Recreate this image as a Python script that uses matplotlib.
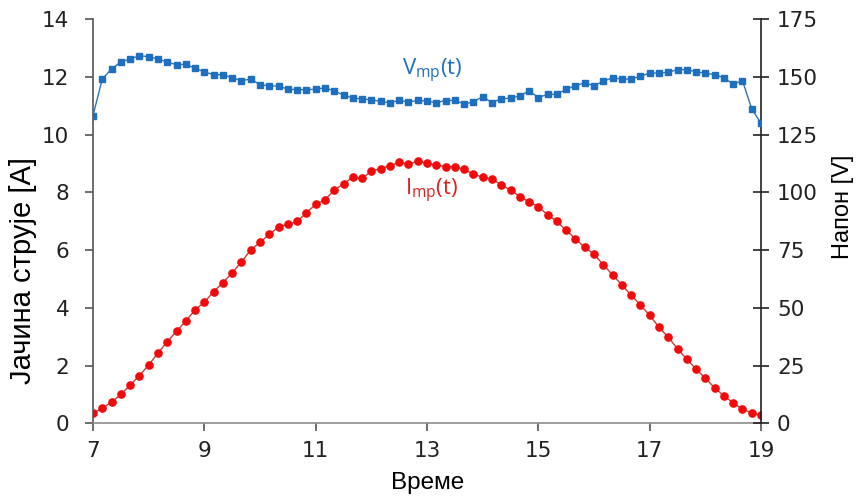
import numpy as np
import matplotlib
matplotlib.use("Agg")
import matplotlib.pyplot as plt

# sample times: 7:00 .. 19:00 every 10 minutes (73 samples)
time_h = np.linspace(7, 19, 73)

current_imp = [0.35, 0.52, 0.73, 1.00, 1.32, 1.65, 2.02, 2.43, 2.82, 3.19,
               3.54, 3.93, 4.19, 4.56, 4.87, 5.21, 5.59, 6.00, 6.27, 6.54,
               6.80, 6.89, 6.99, 7.29, 7.58, 7.74, 8.07, 8.30, 8.52, 8.48,
               8.73, 8.82, 8.91, 9.04, 8.98, 9.07, 9.01, 8.94, 8.89, 8.89,
               8.79, 8.63, 8.52, 8.46, 8.26, 8.08, 7.85, 7.67, 7.50, 7.22,
               6.99, 6.68, 6.39, 6.09, 5.86, 5.49, 5.14, 4.79, 4.44, 4.10,
               3.74, 3.33, 2.98, 2.58, 2.22, 1.88, 1.56, 1.23, 0.95, 0.71,
               0.48, 0.37, 0.28]

voltage_vmp = [133.2, 149.0, 153.4, 156.4, 157.7, 159.1, 158.7, 157.7, 156.4, 155.2,
               155.4, 153.7, 152.1, 150.9, 150.9, 149.6, 148.3, 149.0, 146.6, 146.0,
               146.0, 144.6, 144.4, 144.4, 144.6, 145.2, 143.9, 142.1, 140.8, 140.4,
               140.0, 139.4, 138.7, 139.8, 139.0, 139.8, 139.4, 138.8, 139.7, 139.8,
               138.2, 139.1, 141.4, 138.8, 140.5, 140.7, 141.7, 143.9, 141.0, 142.4,
               142.4, 144.6, 146.1, 147.4, 146.1, 148.1, 149.5, 149.0, 149.0, 150.2,
               151.6, 151.6, 151.9, 153.1, 153.1, 152.1, 151.6, 150.9, 149.6, 146.8,
               148.3, 136.1, 129.9]

x_ticks = [7, 9, 11, 13, 15, 17, 19]
left_ticks = [0, 2, 4, 6, 8, 10, 12, 14]
right_ticks = [0, 25, 50, 75, 100, 125, 150, 175]

plt.rcParams['font.family'] = ['DejaVu Sans']
plt.rcParams['mathtext.default'] = 'regular'

W, H = 860, 503
fig = plt.figure(figsize=(W / 100, H / 100), dpi=100)
ax = fig.add_axes([93 / W, (H - 423.3) / H, (761 - 93) / W, (423.3 - 19) / H])
ax2 = ax.twinx()

blue = '#1F6FC0'
red = '#F00A0A'

ax.plot(time_h, current_imp, color='#C83C3C', lw=1.0, marker='o', ms=5.2,
        mfc=red, mec=red, zorder=3)
ax2.plot(time_h, voltage_vmp, color='#2E75B6', lw=1.0, marker='s', ms=5.0,
         mfc=blue, mec=blue, zorder=3)

ax.set_xlim(7, 19)
ax.set_ylim(0, 14)
ax2.set_ylim(0, 175)
ax.set_xticks(x_ticks)
ax.set_yticks(left_ticks)
ax2.set_yticks(right_ticks)

for a in (ax, ax2):
    a.spines['top'].set_visible(False)
ax.spines['right'].set_visible(False)
ax2.spines['left'].set_visible(False)
ax2.spines['bottom'].set_visible(False)
ax.spines['left'].set_color('#555555')
ax.spines['bottom'].set_color('#8C8C8C')
ax2.spines['right'].set_color('#222222')
for s in ('left', 'bottom'):
    ax.spines[s].set_linewidth(1.2)
ax2.spines['right'].set_linewidth(1.2)

tick_font = 15.5
ax.tick_params(axis='y', direction='out', length=6, width=1.2, color='#555555',
               labelsize=tick_font, labelcolor='#222222', pad=11)
ax.tick_params(axis='x', direction='out', length=6, width=1.2, color='#555555',
               labelsize=tick_font, labelcolor='#222222', pad=7)
ax2.tick_params(axis='y', direction='inout', length=11, width=1.2, color='#222222',
                labelsize=tick_font, labelcolor='#222222', pad=6)

ax.set_ylabel('Јачина струје [A]', fontsize=21, family='Liberation Sans')
ax.yaxis.set_label_coords((37 - 93) / 668, (423.3 - 270) / 404.3)
ax2.set_ylabel('Напон [V]', fontsize=17, family='Liberation Sans', rotation=90)
ax2.yaxis.set_label_coords((832 - 93) / 668, (423.3 - 207) / 404.3)
ax.set_xlabel('Време', fontsize=17.5, family='Liberation Sans')
ax.xaxis.set_label_coords((428 - 93) / 668, -(472 - 423.3) / 404.3)

fig.text(432 / W, 1 - 71 / H, r'V$_{mp}$(t)', fontsize=16, color=blue,
         family='Open Sans', ha='center', va='center')
fig.text(432 / W, 1 - 191 / H, r'I$_{mp}$(t)', fontsize=16, color='#E02020',
         family='Open Sans', ha='center', va='center')

fig.savefig('out.png', dpi=100)
